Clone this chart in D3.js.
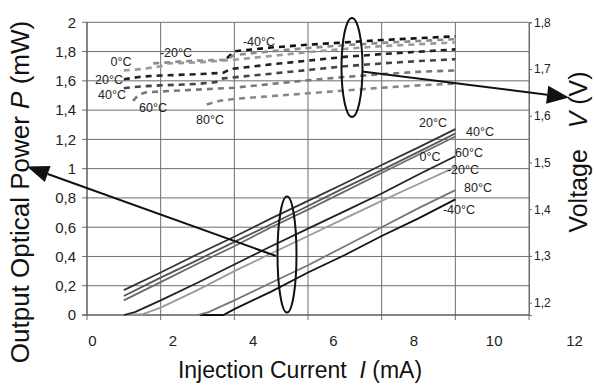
<!DOCTYPE html>
<html><head><meta charset="utf-8">
<script src="https://cdn.jsdelivr.net/npm/d3@7"></script>
<style>body{margin:0;background:#fff}svg{display:block}</style>
</head><body><svg id="c" width="596" height="385"></svg>
<script>
// ---- data ----
const xTicks = [0, 2, 4, 6, 8, 10, 12];
const yLeftTicks = [0, 0.2, 0.4, 0.6, 0.8, 1, 1.2, 1.4, 1.6, 1.8, 2];
const yRightTicks = [1.2, 1.3, 1.4, 1.5, 1.6, 1.7, 1.8];
const temps = ["-40°C", "-20°C", "0°C", "20°C", "40°C", "60°C", "80°C"];

// Optical power P (mW) vs current I (mA)
const powerM40 = [[3.07,0],[3.7,0],[4,0.04],[5,0.16],[6,0.29],[7,0.41],[8,0.54],[9,0.66],[10,0.79]];
const powerM20 = [[1.1,0],[1.5,0.005],[2,0.05],[3,0.17],[4,0.3],[5,0.42],[6,0.54],[7,0.66],[8,0.78],[9,0.895],[10,1.01]];
const power0   = [[1,0.10],[2,0.225],[3,0.35],[4,0.47],[5,0.6],[6,0.72],[7,0.845],[8,0.97],[9,1.095],[10,1.22]];
const power20  = [[1,0.17],[2,0.29],[3,0.415],[4,0.535],[5,0.66],[6,0.78],[7,0.9],[8,1.025],[9,1.145],[10,1.27]];
const power40  = [[1,0.13],[2,0.255],[3,0.375],[4,0.5],[5,0.62],[6,0.745],[7,0.87],[8,0.99],[9,1.115],[10,1.24]];
const power60  = [[1,0],[1.3,0.02],[2,0.1],[3,0.22],[4,0.345],[5,0.47],[6,0.59],[7,0.71],[8,0.83],[9,0.96],[10,1.085]];
const power80  = [[3.0,0],[3.3,0.02],[4,0.1],[5,0.22],[6,0.34],[7,0.47],[8,0.6],[9,0.73],[10,0.853]];

// Voltage V (V) vs current I (mA)
const voltM40 = [[3.8,1.723],[4.0,1.738],[5,1.746],[6,1.752],[7,1.757],[8,1.762],[9,1.766],[10,1.770]];
const voltM20 = [[1.8,1.712],[2.5,1.716],[3,1.718],[3.8,1.72],[4.0,1.73],[5,1.738],[6,1.745],[7,1.751],[8,1.756],[9,1.76],[10,1.764]];
const volt0   = [[1.0,1.697],[1.5,1.7],[2.0,1.706],[2.2,1.712],[3,1.714],[4,1.72],[5,1.728],[6,1.736],[7,1.743],[8,1.749],[9,1.753],[10,1.757]];
const volt20  = [[1.0,1.678],[1.5,1.684],[2,1.686],[3,1.689],[3.7,1.692],[3.9,1.7],[5,1.71],[6,1.718],[7,1.726],[8,1.732],[9,1.737],[10,1.742]];
const volt40  = [[1.0,1.659],[1.5,1.663],[2,1.665],[3,1.668],[3.5,1.672],[3.7,1.68],[5,1.69],[6,1.698],[7,1.706],[8,1.712],[9,1.717],[10,1.721]];
const volt60  = [[1.25,1.632],[1.4,1.645],[1.6,1.65],[2,1.652],[3,1.656],[4,1.66],[5,1.668],[6,1.676],[7,1.683],[8,1.689],[9,1.694],[10,1.697]];
const volt80  = [[3.25,1.624],[3.6,1.632],[4,1.636],[5,1.642],[6,1.648],[7,1.654],[8,1.66],[9,1.665],[10,1.669]];

const powerSeries = [powerM40, powerM20, power0, power20, power40, power60, power80];
const voltSeries  = [voltM40, voltM20, volt0, volt20, volt40, volt60, volt80];

// ---- styling ----
const powerColors = ["#111", "#9a9a9a", "#6a6a6a", "#333", "#555", "#222", "#777"];
const voltColors  = ["#111", "#8a8a8a", "#9a9a9a", "#222", "#444", "#777", "#888"];
// label placement (pixel offsets for annotations)
const powerLabelPos = [[459,210],[463,170],[430,157],[433,123],[480,132],[469,153],[478,188]];
const voltLabelPos  = [[259,42],[176,53],[121,62],[109,80],[112,95],[153,108],[210,120]];

const svg = d3.select("#c");
const L = 87, R = 529, T = 22.3, B = 315;

const x = d3.scaleLinear().domain([0, 12]).range([L, R]);
const xLab = d3.scaleLinear().domain([0, 12]).range([92, 574]);
const yL = d3.scaleLinear().domain([0, 2]).range([B, T]);
const yR = d3.scaleLinear().domain([1.1736, 1.8]).range([B, T]);

const gridC = "#6e6e6e";
// grid
svg.append("g").selectAll("line").data(yLeftTicks).join("line")
  .attr("x1", L - 5).attr("x2", R).attr("y1", d => yL(d)).attr("y2", d => yL(d))
  .attr("stroke", gridC).attr("stroke-width", 1);
svg.append("g").selectAll("line").data(xTicks).join("line")
  .attr("x1", d => x(d)).attr("x2", d => x(d)).attr("y1", T).attr("y2", B + 5)
  .attr("stroke", gridC).attr("stroke-width", 1);

// left axis labels
svg.append("g").attr("transform", `translate(${L},0)`)
  .call(d3.axisLeft(yL).tickValues(yLeftTicks).tickSize(0).tickPadding(11)
    .tickFormat(d => d3.format("~g")(d).replace(".", ",")))
  .call(g => g.select(".domain").remove())
  .selectAll("text").attr("font-family", "Liberation Sans, Arial, sans-serif").attr("font-size", 15).attr("fill", "#222");

// bottom axis labels (offset as in reference)
svg.append("g").attr("transform", `translate(0,${B})`)
  .call(d3.axisBottom(xLab).tickValues(xTicks).tickSize(0).tickPadding(20).tickFormat(d3.format("d")))
  .call(g => g.select(".domain").remove())
  .selectAll("text").attr("font-family", "Liberation Sans, Arial, sans-serif").attr("font-size", 15).attr("fill", "#222");

// right axis
svg.append("g").attr("transform", `translate(${R},0)`)
  .call(d3.axisRight(yR).tickValues(yRightTicks).tickSize(3).tickPadding(2)
    .tickFormat(d => d3.format(".1f")(d).replace(".", ",")))
  .call(g => g.select(".domain").attr("stroke", gridC))
  .call(g => g.selectAll(".tick line").attr("stroke", gridC))
  .selectAll("text").attr("font-family", "Liberation Sans, Arial, sans-serif").attr("font-size", 12).attr("fill", "#222");

// frame lines (axes)
svg.append("line").attr("x1", L).attr("x2", L).attr("y1", T).attr("y2", B).attr("stroke", "#555");
svg.append("line").attr("x1", L - 5).attr("x2", R).attr("y1", B).attr("y2", B).attr("stroke", "#555");

// power lines
const lineP = d3.line().x(d => x(d[0])).y(d => yL(d[1]));
svg.append("g").selectAll("path").data(powerSeries).join("path")
  .attr("d", lineP).attr("fill", "none")
  .attr("stroke", (d, i) => powerColors[i]).attr("stroke-width", 1.8);

// voltage lines
const lineV = d3.line().x(d => x(d[0])).y(d => yR(d[1]));
svg.append("g").selectAll("path").data(voltSeries).join("path")
  .attr("d", lineV).attr("fill", "none")
  .attr("stroke", (d, i) => voltColors[i]).attr("stroke-width", 2.6)
  .attr("stroke-dasharray", "6,5");

// temperature labels
const lblFont = "Liberation Sans, Arial, sans-serif";
svg.append("g").selectAll("text").data(temps).join("text")
  .attr("x", (d, i) => powerLabelPos[i][0]).attr("y", (d, i) => powerLabelPos[i][1])
  .attr("text-anchor", "middle").attr("dominant-baseline", "central")
  .attr("font-family", lblFont).attr("font-size", 12.5).attr("fill", "#222").text(d => d);
svg.append("g").selectAll("text").data(temps).join("text")
  .attr("x", (d, i) => voltLabelPos[i][0]).attr("y", (d, i) => voltLabelPos[i][1])
  .attr("text-anchor", "middle").attr("dominant-baseline", "central")
  .attr("font-family", lblFont).attr("font-size", 12.5).attr("fill", "#222").text(d => d);

// ellipses and arrows
svg.append("ellipse").attr("cx", 352).attr("cy", 67.5).attr("rx", 10.5).attr("ry", 49.5)
  .attr("fill", "none").attr("stroke", "#111").attr("stroke-width", 2);
svg.append("ellipse").attr("cx", 287).attr("cy", 254.5).attr("rx", 9.5).attr("ry", 58)
  .attr("fill", "none").attr("stroke", "#111").attr("stroke-width", 2);

function arrow(x1, y1, x2, y2, len, wid) {
  const a = Math.atan2(y2 - y1, x2 - x1);
  const bx = x2 - len * Math.cos(a), by = y2 - len * Math.sin(a);
  svg.append("line").attr("x1", x1).attr("y1", y1).attr("x2", bx).attr("y2", by)
    .attr("stroke", "#111").attr("stroke-width", 2);
  const px = -Math.sin(a) * wid / 2, py = Math.cos(a) * wid / 2;
  svg.append("polygon").attr("points", [[x2, y2], [bx + px, by + py], [bx - px, by - py]].map(p => p.join(",")).join(" "))
    .attr("fill", "#111");
}
arrow(362, 71.5, 569, 97.5, 22, 18);
arrow(276, 256, 27, 166.5, 22, 17);

// axis titles
const tFont = "Liberation Sans, Arial, sans-serif";
const tb = svg.append("text").attr("x", 300).attr("y", 378).attr("text-anchor", "middle")
  .attr("font-family", tFont).attr("font-size", 23).attr("fill", "#111");
tb.append("tspan").text("Injection Current\u00a0\u00a0");
tb.append("tspan").attr("font-style", "italic").text("I");
tb.append("tspan").text(" (mA)");

const tl = svg.append("text").attr("transform", "translate(29,192) rotate(-90)").attr("text-anchor", "middle")
  .attr("font-family", tFont).attr("font-size", 26).attr("fill", "#111");
tl.append("tspan").text("Output Optical Power ");
tl.append("tspan").attr("font-style", "italic").text("P");
tl.append("tspan").text(" (mW)");

const tr = svg.append("text").attr("transform", "translate(587,152) rotate(-90)").attr("text-anchor", "middle")
  .attr("font-family", tFont).attr("font-size", 25).attr("fill", "#111");
tr.append("tspan").text("Voltage\u00a0\u00a0\u00a0");
tr.append("tspan").attr("font-style", "italic").text("V");
tr.append("tspan").text(" (V)");
</script></body></html>
